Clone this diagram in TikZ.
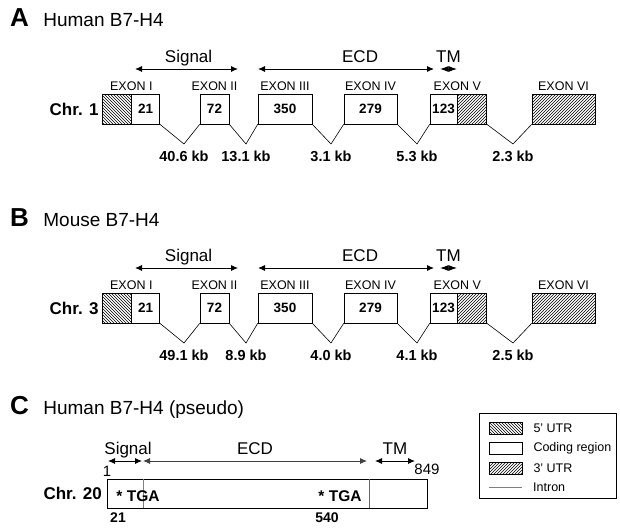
\documentclass[tikz,border=0pt]{standalone}
\usepackage{fontspec}
\setmainfont{Liberation Sans}
\usetikzlibrary{arrows.meta, positioning, patterns}
\tikzstyle{exon} = [draw, fill=white, inner sep=0pt, minimum height=30pt, line width=0.6pt, font=\fontsize{13.5}{16}\selectfont\bfseries]
\tikzstyle{utrfive} = [exon, fill=none, pattern=north west lines]
\tikzstyle{utrthree} = [exon, fill=none, pattern=north east lines]
\tikzstyle{domarrow} = [{Latex[length=7pt,width=6pt]}-{Latex[length=7pt,width=6pt]}, line width=0.9pt]
\tikzstyle{tmarrow} = [{Latex[length=8.5pt,width=6pt]}-{Latex[length=8.5pt,width=6pt]}, line width=0.9pt]

\begin{document}
\begin{tikzpicture}[
    x=1pt, y=-1pt,
    every node/.style={inner sep=1pt},
    letter/.style={font=\fontsize{26}{30}\selectfont\bfseries, anchor=base west, inner sep=0pt},
    title/.style={font=\fontsize{19}{22}\selectfont, inner sep=0pt},
    region/.style={font=\fontsize{17}{20}\selectfont, anchor=base, yshift=7pt},
    exlabel/.style={font=\fontsize{12.5}{15}\selectfont},
    kb/.style={font=\fontsize{14.5}{17}\selectfont\bfseries},
    chr/.style={font=\fontsize{17}{20}\selectfont\bfseries, inner sep=0pt},
    seg/.style={inner sep=0pt, outer sep=0pt, minimum height=29pt},
    stop/.style={font=\fontsize{15.5}{18}\selectfont\bfseries},
    posnum/.style={font=\fontsize{15}{18}\selectfont},
    posbold/.style={font=\fontsize{14}{17}\selectfont\bfseries},
    intron/.style={line width=0.6pt},
    legend/.style={font=\fontsize{12.5}{15}\selectfont, anchor=west, inner sep=0pt}
]
\useasboundingbox (0,0) rectangle (620,527);

% Panel A
\node[letter] (letA) at (10,27) {A};
\node[title, base right=14pt of letA] (titA) {Human B7-H4};

\node[utrfive, minimum width=29pt] (utrA5) at (116.5,109) {};
\node[exon, minimum width=28pt, right=0pt of utrA5] (exA1) {21};
\node[exon, minimum width=29pt] (exA2) at (214.5,109) {72};
\node[exon, minimum width=54pt] (exA3) at (285,109) {350};
\node[exon, minimum width=53pt] (exA4) at (370.5,109) {279};
\node[exon, minimum width=27pt] (exA5) at (443.5,109) {123};
\node[utrthree, minimum width=29pt, right=0pt of exA5] (utrA3) {};
\node[utrthree, minimum width=63pt] (exA6) at (563.5,109) {};
\node[chr, left=3pt of utrA5] (chrA) {Chr. 1};

\node[exlabel, above=2pt of utrA5.north east] (labA1) {EXON I};
\node[exlabel, above=2pt of exA2] (labA2) {EXON II};
\node[exlabel, above=2pt of exA3] (labA3) {EXON III};
\node[exlabel, above=2pt of exA4] (labA4) {EXON IV};
\node[exlabel, above=2pt of utrA3.north west] (labA5) {EXON V};
\node[exlabel, above=2pt of exA6] (labA6) {EXON VI};

\coordinate (sigA1) at (135,69);
\coordinate (sigA2) at (238,69);
\coordinate (ecdA1) at (258,69);
\coordinate (ecdA2) at (434,69);
\coordinate (tmA1) at (440,69);
\coordinate (tmA2) at (457,69);
\draw[domarrow] (sigA1) -- node[region, pos=0.52] (sigAlab) {Signal} (sigA2);
\draw[domarrow] (ecdA1) -- node[region, pos=0.58] (ecdAlab) {ECD} (ecdA2);
\draw[tmarrow] (tmA1) -- node[region] (tmAlab) {TM} (tmA2);

\coordinate (vA1) at (184,144);
\coordinate (vA2) at (246,144);
\coordinate (vA3) at (331,144);
\coordinate (vA4) at (417,144);
\coordinate (vA5) at (513,144);
\draw[intron] (exA1.south east) -- (vA1) -- (exA2.south west);
\draw[intron] (exA2.south east) -- (vA2) -- (exA3.south west);
\draw[intron] (exA3.south east) -- (vA3) -- (exA4.south west);
\draw[intron] (exA4.south east) -- (vA4) -- (exA5.south west);
\draw[intron] (utrA3.south east) -- (vA5) -- (exA6.south west);
\node[kb, below=6pt of vA1] (kbA1) {40.6 kb};
\node[kb, below=6pt of vA2] (kbA2) {13.1 kb};
\node[kb, below=6pt of vA3] (kbA3) {3.1 kb};
\node[kb, below=6pt of vA4] (kbA4) {5.3 kb};
\node[kb, below=6pt of vA5] (kbA5) {2.3 kb};

% Panel B
\node[letter] (letB) at (10,226) {B};
\node[title, base right=14pt of letB] (titB) {Mouse B7-H4};

\node[utrfive, minimum width=29pt] (utrB5) at (116.5,308) {};
\node[exon, minimum width=28pt, right=0pt of utrB5] (exB1) {21};
\node[exon, minimum width=29pt] (exB2) at (214.5,308) {72};
\node[exon, minimum width=54pt] (exB3) at (285,308) {350};
\node[exon, minimum width=53pt] (exB4) at (370.5,308) {279};
\node[exon, minimum width=27pt] (exB5) at (443.5,308) {123};
\node[utrthree, minimum width=29pt, right=0pt of exB5] (utrB3) {};
\node[utrthree, minimum width=63pt] (exB6) at (563.5,308) {};
\node[chr, left=3pt of utrB5] (chrB) {Chr. 3};

\node[exlabel, above=2pt of utrB5.north east] (labB1) {EXON I};
\node[exlabel, above=2pt of exB2] (labB2) {EXON II};
\node[exlabel, above=2pt of exB3] (labB3) {EXON III};
\node[exlabel, above=2pt of exB4] (labB4) {EXON IV};
\node[exlabel, above=2pt of utrB3.north west] (labB5) {EXON V};
\node[exlabel, above=2pt of exB6] (labB6) {EXON VI};

\coordinate (sigB1) at (135,268);
\coordinate (sigB2) at (238,268);
\coordinate (ecdB1) at (258,268);
\coordinate (ecdB2) at (434,268);
\coordinate (tmB1) at (440,268);
\coordinate (tmB2) at (457,268);
\draw[domarrow] (sigB1) -- node[region, pos=0.52] (sigBlab) {Signal} (sigB2);
\draw[domarrow] (ecdB1) -- node[region, pos=0.58] (ecdBlab) {ECD} (ecdB2);
\draw[tmarrow] (tmB1) -- node[region] (tmBlab) {TM} (tmB2);

\coordinate (vB1) at (184,343);
\coordinate (vB2) at (246,343);
\coordinate (vB3) at (331,343);
\coordinate (vB4) at (417,343);
\coordinate (vB5) at (513,343);
\draw[intron] (exB1.south east) -- (vB1) -- (exB2.south west);
\draw[intron] (exB2.south east) -- (vB2) -- (exB3.south west);
\draw[intron] (exB3.south east) -- (vB3) -- (exB4.south west);
\draw[intron] (exB4.south east) -- (vB4) -- (exB5.south west);
\draw[intron] (utrB3.south east) -- (vB5) -- (exB6.south west);
\node[kb, below=6pt of vB1] (kbB1) {49.1 kb};
\node[kb, below=6pt of vB2] (kbB2) {8.9 kb};
\node[kb, below=6pt of vB3] (kbB3) {4.0 kb};
\node[kb, below=6pt of vB4] (kbB4) {4.1 kb};
\node[kb, below=6pt of vB5] (kbB5) {2.5 kb};

% Panel C
\node[letter] (letC) at (10,414) {C};
\node[title, base right=14pt of letC] (titC) {Human B7-H4 (pseudo)};

\node[seg, minimum width=36pt] (segC1) at (125,493.5) {};
\node[seg, minimum width=226pt, right=0pt of segC1] (segC2) {};
\node[seg, minimum width=58pt, right=0pt of segC2] (segC3) {};
\draw[line width=0.6pt] (segC1.north west) rectangle (segC3.south east);
\draw[gray, line width=0.6pt] (segC1.north east) -- (segC1.south east);
\draw[black!60, line width=0.6pt] (segC2.north east) -- (segC2.south east);
\node[chr, left=5pt of segC1] (chrC) {Chr. 20};
\node[stop] (stopC1) at (138,496) {* TGA};
\node[stop] (stopC2) at (340,496) {* TGA};
\node[posnum, above=1pt of segC1.north west] (startC) {1};
\node[posnum, above=3pt of segC3.north east] (endC) {849};
\node[posbold] (posC1) at (118,518) {21};
\node[posbold] (posC2) at (327,518) {540};

\coordinate (sigC1) at (108,461);
\coordinate (sigC2) at (142,461);
\coordinate (ecdC1) at (143,461);
\coordinate (ecdC2) at (367,461);
\coordinate (tmC1) at (375,461);
\coordinate (tmC2) at (415,461);
\draw[domarrow] (sigC1) -- node[region, pos=0.59] (sigClab) {Signal} (sigC2);
\draw[domarrow, black!75] (ecdC1) -- node[region, black] (ecdClab) {ECD} (ecdC2);
\draw[domarrow] (tmC1) -- node[region] (tmClab) {TM} (tmC2);

% Legend
\node[draw, line width=0.6pt, minimum width=137pt, minimum height=85pt, inner sep=0pt] (legbox) at (547.5,455.5) {};
\node[utrfive, minimum width=33pt, minimum height=12pt] (sw1) at (505.5,428) {};
\node[exon, minimum width=33pt, minimum height=12pt] (sw2) at (505.5,448) {};
\node[utrthree, minimum width=33pt, minimum height=12pt] (sw3) at (505.5,468) {};
\coordinate (sw4a) at (489,487);
\coordinate (sw4b) at (522,487);
\draw[gray, line width=0.8pt] (sw4a) -- (sw4b);
\node[legend, right=11pt of sw1] (lt1) {5' UTR};
\node[legend, right=11pt of sw2] (lt2) {Coding region};
\node[legend, right=11pt of sw3] (lt3) {3' UTR};
\node[legend] (lt4) at (533,487) {Intron};

\end{tikzpicture}
\end{document}
